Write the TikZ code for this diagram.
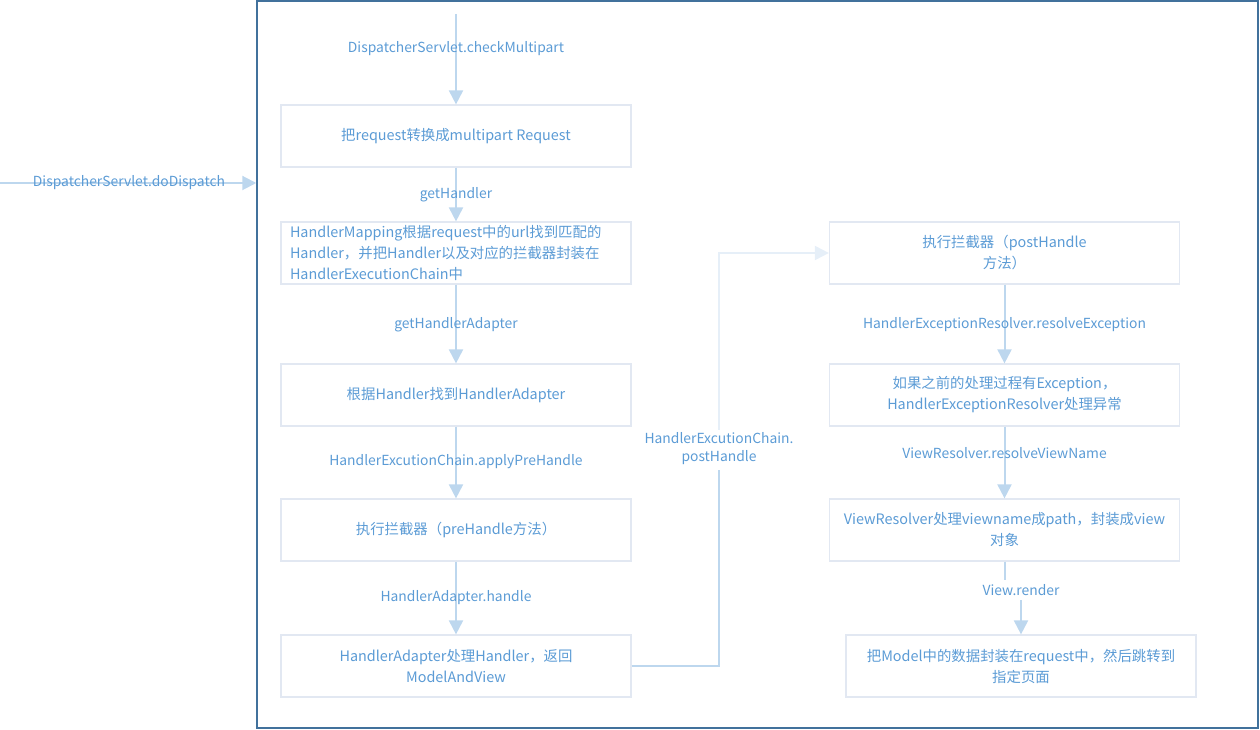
\documentclass[tikz,border=0pt]{standalone}
\usepackage{fontspec}
\setmainfont{Noto Sans CJK SC}
\usetikzlibrary{arrows.meta}
\definecolor{txt}{HTML}{5B9BD5}
\definecolor{arr}{HTML}{BDD7EE}
\definecolor{arrlight}{HTML}{E6EFF8}
\definecolor{bord}{HTML}{E2E8F2}
\definecolor{framec}{HTML}{41719C}
\tikzset{
  box/.style={draw=bord, line width=0.9pt, minimum width=262.5pt, minimum height=46.5pt, inner sep=0pt, text=txt, font=\fontsize{10.8}{15.75}\selectfont, align=center},
  lbl/.style={text=txt, font=\fontsize{10.4}{13.5}\selectfont, inner sep=1pt, align=center},
  flow/.style={draw=arr, line width=1.5pt, -{Triangle[width=10.5pt,length=10.5pt]}},
  flowlight/.style={draw=arrlight, line width=1.5pt, -{Triangle[width=10.5pt,length=10.5pt]}},
  plain/.style={draw=arr, line width=1.5pt}
}
\begin{document}
\begin{tikzpicture}[x=0.75pt,y=-0.75pt]
\useasboundingbox (0,0) rectangle (1260,730);
\node[draw=framec, line width=1.1pt, minimum width=750.75pt, minimum height=545.25pt, inner sep=0pt] (frame) at (757.5,364.5) {};

% left column
\node[box] (b1) at (456,136) {把request转换成multipart Request};
\node[box, text width=249pt, align=left] (b2) at (456,253) {HandlerMapping根据request中的url找到匹配的\\Handler，并把Handler以及对应的拦截器封装在\\HandlerExecutionChain中};
\node[box] (b3) at (456,395) {根据Handler找到HandlerAdapter};
\node[box] (b4) at (456,530) {执行拦截器（preHandle方法）};
\node[box] (b5) at (456,666) {HandlerAdapter处理Handler，返回\\ModelAndView};

% right column
\node[box] (r1) at (1004.5,253) {执行拦截器（postHandle\\方法）};
\node[box] (r2) at (1004.5,395) {如果之前的处理过程有Exception，\\HandlerExceptionResolver处理异常};
\node[box] (r3) at (1004.5,530) {ViewResolver处理viewname成path，封装成view\\对象};
\node[box] (r4) at (1021,666) {把Model中的数据封装在request中，然后跳转到\\指定页面};

% entry arrow
\coordinate (ls) at (0,183);
\draw[flow] (ls) -- (ls -| frame.west);
\node[lbl] (l0) at (129,183) {DispatcherServlet.doDispatch};

% top arrow
\coordinate (top) at (456,14);
\draw[flow] (top) -- (b1.north);
\node[lbl] (l1) at (456,49) {DispatcherServlet.checkMultipart};

\draw[flow] (b1) -- (b2);
\node[lbl] (l2) at (456,195) {getHandler};
\draw[flow] (b2) -- (b3);
\node[lbl] (l3) at (456,325) {getHandlerAdapter};
\draw[flow] (b3) -- (b4);
\node[lbl] (l4) at (456,462) {HandlerExcutionChain.applyPreHandle};
\draw[flow] (b4) -- (b5);
\node[lbl] (l5) at (456,598) {HandlerAdapter.handle};

% post handle connector
\coordinate (p1) at (719,470);
\coordinate (p2) at (719,430);
\draw[plain] (b5.east) -| (p1);
\draw[flowlight] (p2) |- (r1.west);
\node[lbl] (l6) at (719,449) {HandlerExcutionChain.\\postHandle};

% right column arrows
\draw[flow] (r1) -- (r2);
\node[lbl] (l7) at (1004.5,325) {HandlerExceptionResolver.resolveException};
\draw[flow] (r2) -- (r3);
\node[lbl] (l8) at (1004.5,453) {ViewResolver.resolveViewName};
\coordinate (vr) at (1021,590);
\draw[plain] (r3.south) |- (vr);
\draw[flow] (vr) -- (r4.north);
\node[lbl, fill=white, inner sep=3pt] (l9) at (1021,590) {View.render};
\end{tikzpicture}
\end{document}
